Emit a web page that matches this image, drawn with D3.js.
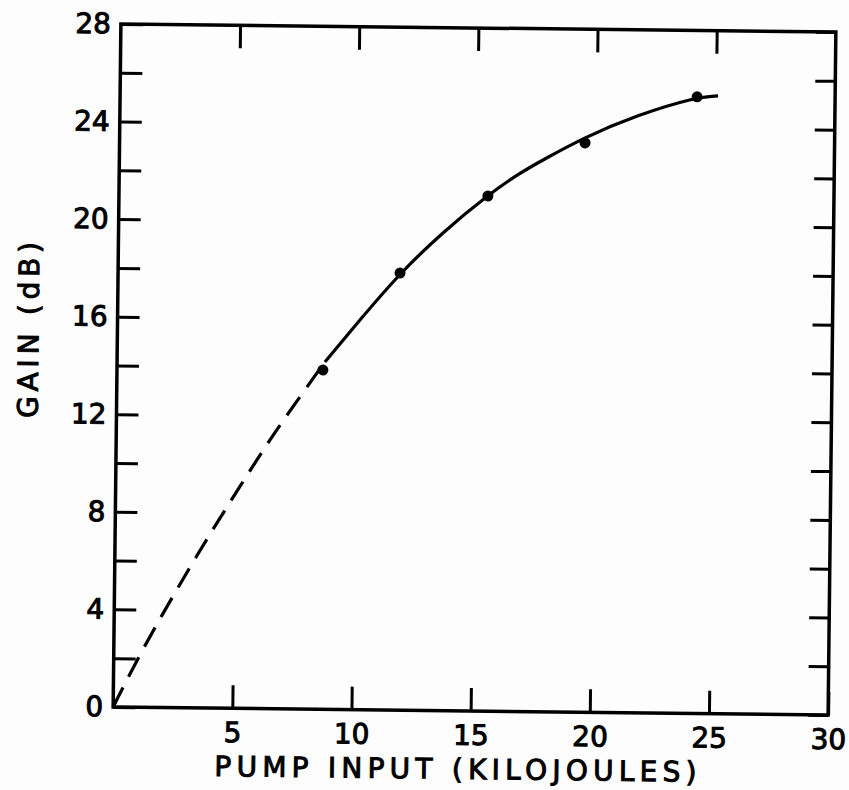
<!DOCTYPE html>
<html>
<head>
<meta charset="utf-8">
<script src="https://cdn.jsdelivr.net/npm/d3@7"></script>
<style>
    body { margin: 0; background: #fdfdfd; }
    svg { display: block; }
    .axis text { font-family: "DejaVu Sans", sans-serif; font-size: 28px; fill: #000; stroke: #000; stroke-width: 1; }
    .axis line { stroke: #000; stroke-width: 3; }
    .axis path { display: none; }
    .label { font-family: "DejaVu Sans", sans-serif; font-size: 28px; fill: #000; stroke: #000; stroke-width: 1; }
</style>
</head>
<body>
<div id="chart"></div>
<script>
/*
  Gain vs pump input
*/

// measured points
const pumpInput = [8.64, 11.83, 15.48, 19.53, 24.21];
const gain = [13.91, 17.92, 21.12, 23.34, 25.28];

// solid fitted curve
const fitInput = [8.72, 10.17, 11.83, 13.61, 15.48, 16.81, 17.77, 19.44, 21.7, 24.21, 25.09];
const fitGain = [14.24, 15.98, 17.92, 19.62, 21.16, 22.08, 22.62, 23.54, 24.51, 25.28, 25.33];

// dashed extrapolation to the origin
const extrapInput = [0, 1.02, 2.0, 3.57, 4.47, 6.04, 6.86, 8.72];
const extrapGain = [0, 2.02, 3.79, 6.47, 7.92, 10.4, 11.64, 14.24];

const xTicks = [5, 10, 15, 20, 25, 30];
const yTicks = [0, 2, 4, 6, 8, 10, 12, 14, 16, 18, 20, 22, 24, 26, 28];
const yLabelled = [0, 4, 8, 12, 16, 20, 24, 28];

const width = 849;
const height = 790;
const margin = {top: 28, left: 117, right: 17, bottom: 79};

const svg = d3.select("#chart")
    .append("svg")
    .attr("width", width)
    .attr("height", height);

svg.append("rect")
    .attr("width", width)
    .attr("height", height)
    .attr("fill", "#fdfdfd");

// the scan is turned a little clockwise
const cx = (margin.left + width - margin.right) / 2;
const cy = (margin.top + height - margin.bottom) / 2;
const g = svg.append("g")
    .attr("transform", `rotate(0.65, ${cx}, ${cy})`);

/*
  SCALES
*/
const xScale = d3.scaleLinear()
    .domain([0, 30])
    .range([margin.left, width - margin.right]);

const yScale = d3.scaleLinear()
    .domain([0, 28])
    .range([height - margin.bottom, margin.top]);

/*
  AXES (ticks point inward on all four sides)
*/
g.append("g")
    .attr("class", "axis")
    .attr("transform", `translate(0,${height - margin.bottom})`)
    .call(d3.axisBottom(xScale).tickValues(xTicks).tickSizeInner(-23).tickSizeOuter(0).tickPadding(14));

g.append("g")
    .attr("class", "axis")
    .attr("transform", `translate(0,${margin.top})`)
    .call(d3.axisTop(xScale).tickValues(xTicks.slice(0, 5)).tickSizeInner(-23).tickSizeOuter(0).tickFormat(""));

g.append("g")
    .attr("class", "axis")
    .attr("transform", `translate(${margin.left},0)`)
    .call(d3.axisLeft(yScale).tickValues(yTicks).tickSizeInner(-22).tickSizeOuter(0).tickPadding(10)
        .tickFormat(function(d) { return yLabelled.includes(d) ? d : ""; }));

g.append("g")
    .attr("class", "axis")
    .attr("transform", `translate(${width - margin.right},0)`)
    .call(d3.axisRight(yScale).tickValues(yTicks).tickSizeInner(-20).tickSizeOuter(0).tickFormat(""));

// frame
g.append("rect")
    .attr("x", xScale(0))
    .attr("y", yScale(28))
    .attr("width", xScale(30) - xScale(0))
    .attr("height", yScale(0) - yScale(28))
    .attr("fill", "none")
    .attr("stroke", "#000")
    .attr("stroke-width", 3.5);

/*
  CURVES
*/
const line = d3.line()
    .x(function(d) { return xScale(d[0]); })
    .y(function(d) { return yScale(d[1]); })
    .curve(d3.curveBasis);

g.append("path")
    .datum(extrapInput.map(function(v, i) { return [v, extrapGain[i]]; }))
    .attr("d", line)
    .attr("fill", "none")
    .attr("stroke", "#000")
    .attr("stroke-width", 3.2)
    .attr("stroke-dasharray", "22,12");

g.append("path")
    .datum(fitInput.map(function(v, i) { return [v, fitGain[i]]; }))
    .attr("d", line)
    .attr("fill", "none")
    .attr("stroke", "#000")
    .attr("stroke-width", 3.2);

/*
  POINTS
*/
g.selectAll("circle.pt")
    .data(pumpInput.map(function(v, i) { return [v, gain[i]]; }))
    .enter()
    .append("circle")
        .attr("class", "pt")
        .attr("cx", function(d) { return xScale(d[0]); })
        .attr("cy", function(d) { return yScale(d[1]); })
        .attr("r", 5.5)
        .attr("fill", "#000");

/*
  AXIS TITLES
*/
g.append("text")
    .attr("class", "label")
    .attr("x", 460)
    .attr("y", height - 11)
    .attr("text-anchor", "middle")
    .attr("textLength", 482)
    .attr("lengthAdjust", "spacing")
    .text("PUMP INPUT (KILOJOULES)");

g.append("text")
    .attr("class", "label")
    .attr("transform", `translate(38, 335) rotate(-90)`)
    .attr("text-anchor", "middle")
    .attr("textLength", 176)
    .attr("lengthAdjust", "spacing")
    .text("GAIN (dB)");
</script>
</body>
</html>
